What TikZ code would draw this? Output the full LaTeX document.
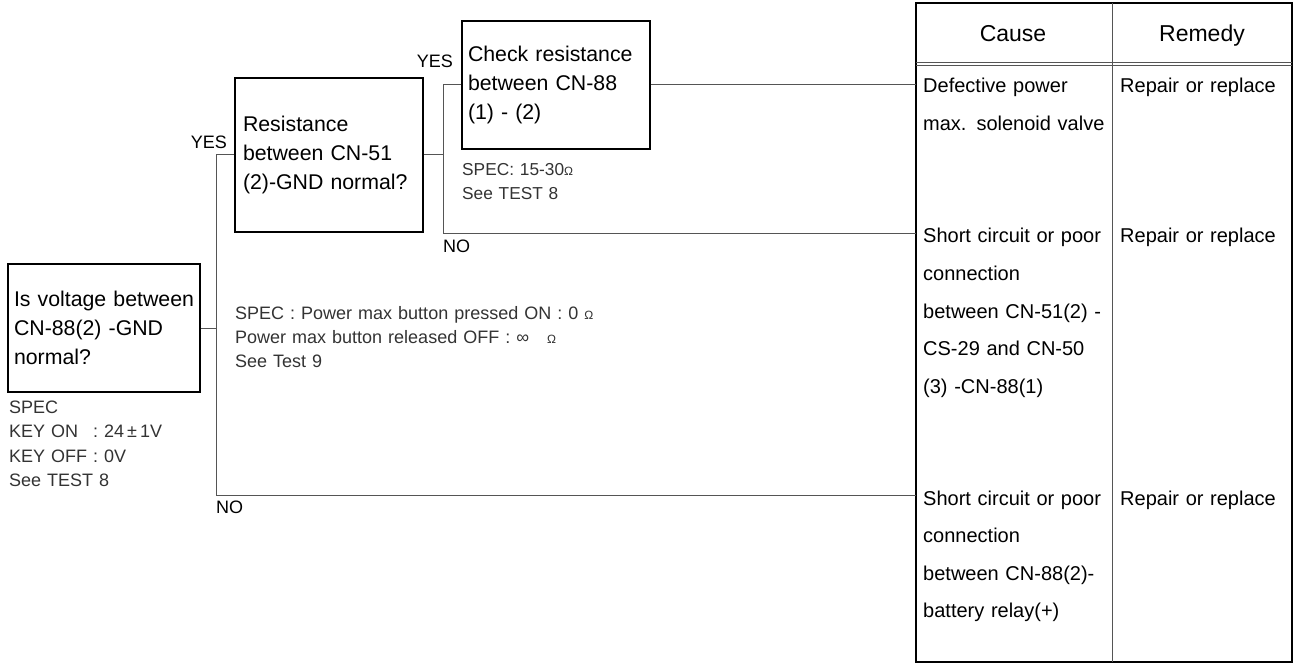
\documentclass[tikz,border=0pt]{standalone}
\usepackage{fontspec}
\setmainfont{Liberation Sans}
\usepackage{tikz}
\usetikzlibrary{positioning,calc}
\definecolor{specgray}{HTML}{333333}
\definecolor{linkgray}{HTML}{555555}
\newcommand{\ohm}{{\fontsize{12}{12}\selectfont Ω}}
\tikzset{
  qbox/.style={draw, line width=1.2pt, inner xsep=6pt, inner ysep=0pt, align=left,
               font=\fontsize{21.3}{29}\selectfont},
  spec/.style={anchor=base west, inner sep=0pt, align=left, text=specgray, text width=#1,
               font=\fontsize{18}{24}\selectfont},
  lab/.style={inner sep=0pt, font=\fontsize{18}{18}\selectfont},
  cell/.style={anchor=base west, inner sep=0pt, align=left, text width=#1,
               font=\fontsize{20}{37.5}\selectfont},
  head/.style={anchor=base, inner sep=0pt, font=\fontsize{23}{26}\selectfont},
  link/.style={draw=linkgray, line width=1pt},
  rule/.style={line width=1.3pt}
}

\begin{document}
\begin{tikzpicture}[x=1pt, y=-1pt]
\useasboundingbox (0,0) rectangle (1298,663);
\draw[rule] (916,3) rectangle (1292,662);
\draw[line width=1pt, draw=linkgray] (1112,3) -- (1112,662);
\draw[line width=0.9pt, draw=linkgray] (916,62) -- (1292,62) (916,65.5) -- (1292,65.5);
\node[head] (hc) at (1013,42) {Cause};
\node[head] (hr) at (1202,42) {Remedy};

\node[qbox, text width=180pt, minimum height=128pt] (q1) at (104,328) {Is voltage between\\CN-88(2) -GND\\normal?};
\node[qbox, text width=172pt, minimum height=154pt, inner xsep=8pt] (q2) at (329,155) {Resistance\\between CN-51\\(2)-GND normal?};
\node[qbox, text width=176pt, minimum height=128pt] (q3) at (556,85) {Check resistance\\between CN-88\\(1) - (2)};

\node[spec=200pt, font=\fontsize{18}{24.5}\selectfont] (s1) at (9,413) {SPEC\\KEY ON\hspace{9pt} : 24\,±\,1V\\KEY OFF : 0V\\See TEST 8};
\node[spec=450pt] (s2) at (235,319) {SPEC : Power max button pressed ON : 0 \ohm\\Power max button released OFF : ∞\quad\ohm\\See Test 9};
\node[spec=200pt, font=\fontsize{17.3}{24}\selectfont] (s3) at (462,176) {SPEC: 15-30\ohm\\See TEST 8};

\node[cell=185pt] (c1) at (923,93) {Defective power\\max. solenoid valve};
\node[cell=185pt] (c2) at (923,243) {Short circuit or poor\\connection\\between CN-51(2) -\\CS-29 and CN-50\\(3) -CN-88(1)};
\node[cell=185pt] (c3) at (923,505) {Short circuit or poor\\connection\\between CN-88(2)-\\battery relay(+)};
\node[cell=168pt] (m1) at (1120,93) {Repair or replace};
\node[cell=168pt] (m2) at (1120,243) {Repair or replace};
\node[cell=168pt] (m3) at (1120,505) {Repair or replace};

\coordinate (r1) at (916,85);
\coordinate (r2) at (916,233);
\coordinate (r3) at (916,495);
\coordinate (j1) at (216,495);
\coordinate (j2) at (443,233);
\draw[link] (q1.east) -- (q1.east -| j1);
\draw[link] (q2.west) -| (j1) -- (r3);
\draw[link] (q2.east) -- (q2.east -| j2);
\draw[link] (q3.west) -| (j2) -- (r2);
\draw[link] (q3.east) -- (r1);

\node[lab, anchor=base east] (y1) at (227,149) {YES};
\node[lab, anchor=base east] (y2) at (453,68) {YES};
\node[lab, anchor=base west] (n1) at (443,252) {NO};
\node[lab, anchor=base west] (n2) at (216,513) {NO};
\end{tikzpicture}
\end{document}
